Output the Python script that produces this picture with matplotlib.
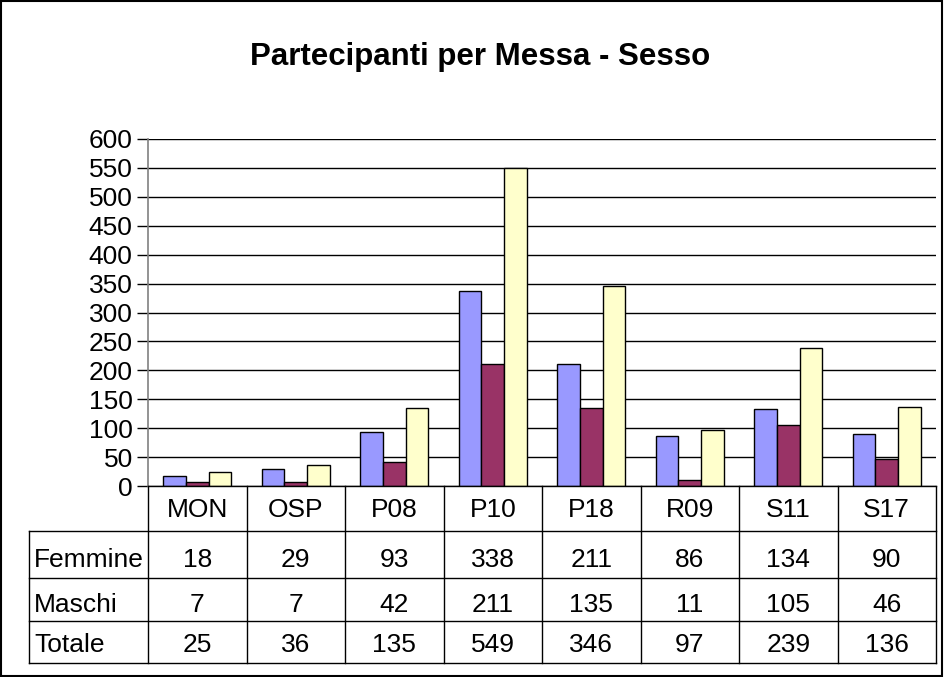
import matplotlib
matplotlib.use("Agg")
import matplotlib.pyplot as plt
from matplotlib.patches import Rectangle
from matplotlib.lines import Line2D
import numpy as np

plt.rcParams['font.family'] = ['Liberation Sans', 'DejaVu Sans']

categories = ["MON", "OSP", "P08", "P10", "P18", "R09", "S11", "S17"]
series_names = ["Femmine", "Maschi", "Totale"]
femmine = [18, 29, 93, 338, 211, 86, 134, 90]
maschi = [7, 7, 42, 211, 135, 11, 105, 46]
totale = [25, 36, 135, 549, 346, 97, 239, 136]
colors = ["#9999FF", "#993366", "#FFFFCC"]
title = "Partecipanti per Messa - Sesso"

W, H = 944, 677
fig = plt.figure(figsize=(W / 100, H / 100), dpi=100)

def fx(px):
    return px / W

def fy(py):
    return 1 - py / H

FS = 19

# outer border
fig.patches.append(Rectangle((fx(1), fy(676)), fx(941), 675 / H, transform=fig.transFigure,
                             fill=False, edgecolor="black", linewidth=1.5))

# plot area
L, R, T, B = 148, 936, 139, 486
ax = fig.add_axes([fx(L), fy(B), fx(R - L), (B - T) / H])
n = len(categories)
x = np.arange(n)
bw = 0.23
data = [femmine, maschi, totale]
for i, (vals, c) in enumerate(zip(data, colors)):
    ax.bar(x + (i - 1) * bw, vals, width=bw, color=c, edgecolor="black", linewidth=1.0, zorder=3,
           label=series_names[i])
ax.set_xlim(-0.5, n - 0.5)
ax.set_ylim(0, 600)
ax.set_yticks(np.arange(0, 601, 50))
ax.yaxis.grid(True, color="black", linewidth=1.0, zorder=0)
ax.set_xticks([])
ax.tick_params(axis="y", labelsize=FS, length=8, width=1, direction="out", pad=3)
for s in ["top", "right", "bottom"]:
    ax.spines[s].set_visible(False)
ax.spines["left"].set_color("#808080")
ax.spines["left"].set_linewidth(1.2)

fig.text(fx(480), fy(65), title, ha="center", va="baseline", fontsize=22.5, fontweight="bold")

# data table
colw = (R - L) / n
row_y = [486, 531, 578, 621, 663]
baselines = [517, 567, 612, 652]
lines = []
lines.append(((L, R), (row_y[0], row_y[0])))
for yy in row_y[1:]:
    lines.append(((29, R), (yy, yy)))
for k in range(n + 1):
    lines.append(((L + k * colw, L + k * colw), (row_y[0], row_y[-1])))
lines.append(((29, 29), (row_y[1], row_y[-1])))
for (xs, ys) in lines:
    fig.add_artist(Line2D([fx(xs[0]), fx(xs[1])], [fy(ys[0]), fy(ys[1])],
                          transform=fig.transFigure, color="black", linewidth=1.0))

for k, cat in enumerate(categories):
    cx = L + (k + 0.5) * colw
    fig.text(fx(cx), fy(baselines[0]), cat, ha="center", va="baseline", fontsize=FS)
    for r, vals in enumerate(data):
        fig.text(fx(cx), fy(baselines[r + 1]), str(vals[k]), ha="center", va="baseline", fontsize=FS)
for r, name in enumerate(series_names):
    fig.text(fx(34), fy(baselines[r + 1]), name, ha="left", va="baseline", fontsize=FS)

fig.savefig("out.png", dpi=100)
